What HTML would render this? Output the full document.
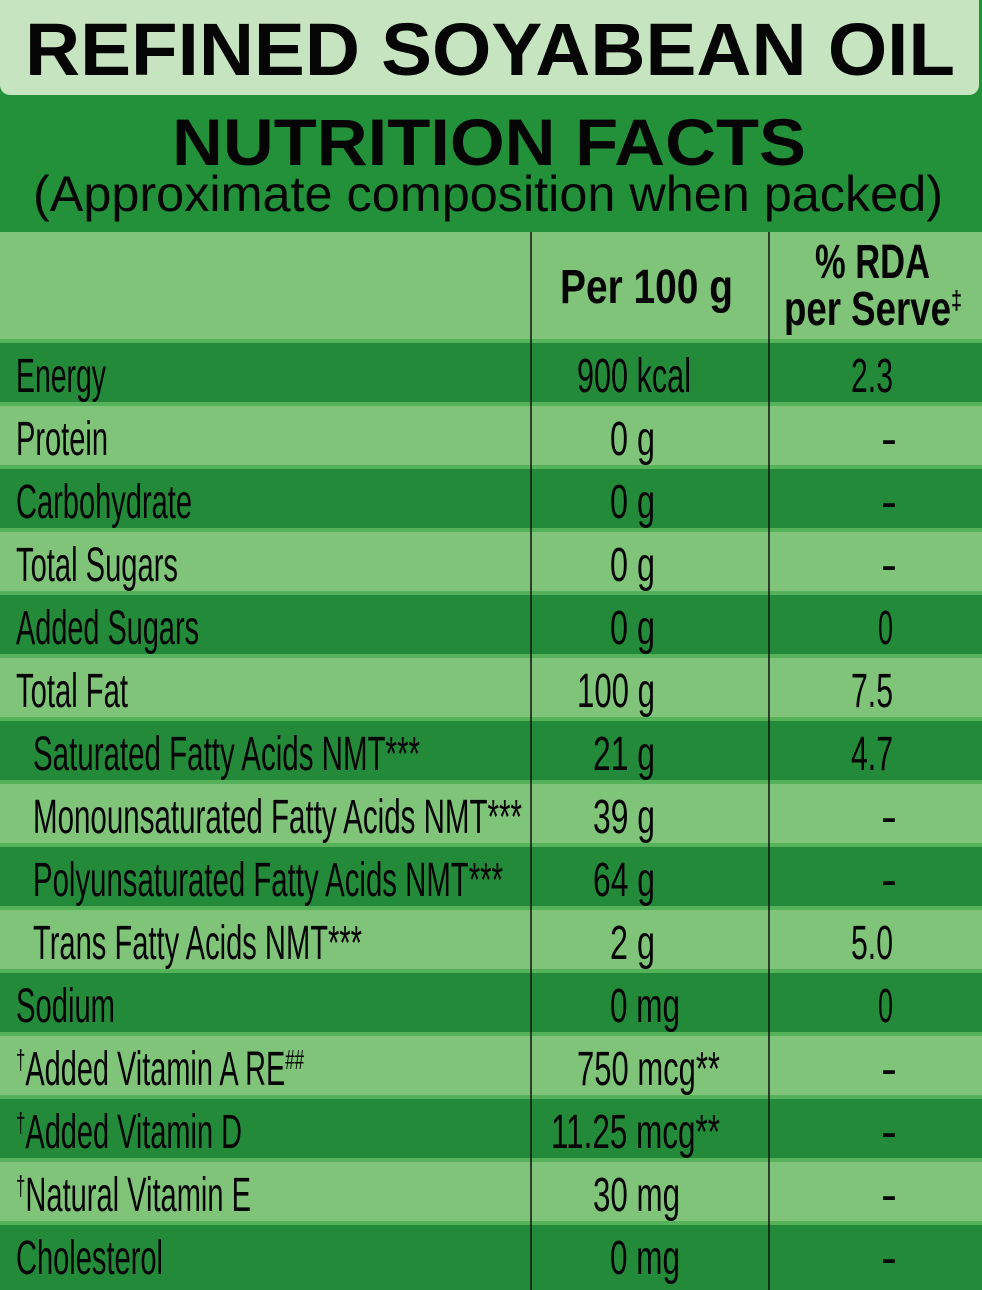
<!DOCTYPE html>
<html><head><meta charset="utf-8"><style>
html,body{margin:0;padding:0;background:#22913a;}
svg{display:block;}
text{font-family:"Liberation Sans",sans-serif;fill:#050505;}
</style></head><body>
<svg width="982" height="1290" xmlns="http://www.w3.org/2000/svg">
<rect width="982" height="1290" fill="#22913a"/>
<rect x="0" y="-10" width="979" height="105" rx="10" fill="#c6e4c0"/>
<text x="25" y="75" font-size="74" font-weight="bold" textLength="930" lengthAdjust="spacingAndGlyphs">REFINED SOYABEAN OIL</text>
<text x="172" y="165" font-size="66" font-weight="bold" textLength="634" lengthAdjust="spacingAndGlyphs">NUTRITION FACTS</text>
<text x="33" y="211" font-size="50" textLength="910" lengthAdjust="spacingAndGlyphs">(Approximate composition when packed)</text>
<rect x="0" y="232" width="982" height="107" fill="#80c47a"/>
<rect x="0" y="339" width="982" height="4" fill="#55b25a"/><rect x="0" y="343" width="982" height="59" fill="#238a3a"/>
<rect x="0" y="402" width="982" height="4" fill="#55b25a"/><rect x="0" y="406" width="982" height="59" fill="#80c47a"/>
<rect x="0" y="465" width="982" height="4" fill="#55b25a"/><rect x="0" y="469" width="982" height="59" fill="#238a3a"/>
<rect x="0" y="528" width="982" height="4" fill="#55b25a"/><rect x="0" y="532" width="982" height="59" fill="#80c47a"/>
<rect x="0" y="591" width="982" height="4" fill="#55b25a"/><rect x="0" y="595" width="982" height="59" fill="#238a3a"/>
<rect x="0" y="654" width="982" height="4" fill="#55b25a"/><rect x="0" y="658" width="982" height="59" fill="#80c47a"/>
<rect x="0" y="717" width="982" height="4" fill="#55b25a"/><rect x="0" y="721" width="982" height="59" fill="#238a3a"/>
<rect x="0" y="780" width="982" height="4" fill="#55b25a"/><rect x="0" y="784" width="982" height="59" fill="#80c47a"/>
<rect x="0" y="843" width="982" height="4" fill="#55b25a"/><rect x="0" y="847" width="982" height="59" fill="#238a3a"/>
<rect x="0" y="906" width="982" height="4" fill="#55b25a"/><rect x="0" y="910" width="982" height="59" fill="#80c47a"/>
<rect x="0" y="969" width="982" height="4" fill="#55b25a"/><rect x="0" y="973" width="982" height="59" fill="#238a3a"/>
<rect x="0" y="1032" width="982" height="4" fill="#55b25a"/><rect x="0" y="1036" width="982" height="59" fill="#80c47a"/>
<rect x="0" y="1095" width="982" height="4" fill="#55b25a"/><rect x="0" y="1099" width="982" height="59" fill="#238a3a"/>
<rect x="0" y="1158" width="982" height="4" fill="#55b25a"/><rect x="0" y="1162" width="982" height="59" fill="#80c47a"/>
<rect x="0" y="1221" width="982" height="4" fill="#55b25a"/><rect x="0" y="1225" width="982" height="65" fill="#238a3a"/>
<line x1="531" y1="232" x2="531" y2="1290" stroke="#111" stroke-width="1.5"/>
<line x1="769" y1="232" x2="769" y2="1290" stroke="#111" stroke-width="1.5"/>
<g font-size="48" font-weight="bold">
<text x="560" y="303" textLength="173" lengthAdjust="spacingAndGlyphs">Per 100 g</text>
<text x="815" y="278" textLength="115" lengthAdjust="spacingAndGlyphs">% RDA</text>
<text x="784" y="325" textLength="178" lengthAdjust="spacingAndGlyphs">per Serve<tspan font-size="26" dy="-16">‡</tspan></text>
</g>
<g font-size="48" transform="translate(0,-3)">
<text x="16" y="395" textLength="90" lengthAdjust="spacingAndGlyphs">Energy</text>
<text x="16" y="458" textLength="92" lengthAdjust="spacingAndGlyphs">Protein</text>
<text x="16" y="521" textLength="176" lengthAdjust="spacingAndGlyphs">Carbohydrate</text>
<text x="16" y="584" textLength="162" lengthAdjust="spacingAndGlyphs">Total Sugars</text>
<text x="16" y="647" textLength="183" lengthAdjust="spacingAndGlyphs">Added Sugars</text>
<text x="16" y="710" textLength="112" lengthAdjust="spacingAndGlyphs">Total Fat</text>
<text x="33" y="773" textLength="387" lengthAdjust="spacingAndGlyphs">Saturated Fatty Acids NMT***</text>
<text x="33" y="836" textLength="489" lengthAdjust="spacingAndGlyphs">Monounsaturated Fatty Acids NMT***</text>
<text x="33" y="899" textLength="470" lengthAdjust="spacingAndGlyphs">Polyunsaturated Fatty Acids NMT***</text>
<text x="33" y="962" textLength="329" lengthAdjust="spacingAndGlyphs">Trans Fatty Acids NMT***</text>
<text x="16" y="1025" textLength="99" lengthAdjust="spacingAndGlyphs">Sodium</text>
<text x="16" y="1088" textLength="288" lengthAdjust="spacingAndGlyphs"><tspan font-size="28" dy="-16">†</tspan><tspan dy="16">Added Vitamin A RE</tspan><tspan font-size="28" dy="-16">##</tspan></text>
<text x="16" y="1151" textLength="226" lengthAdjust="spacingAndGlyphs"><tspan font-size="28" dy="-16">†</tspan><tspan dy="16">Added Vitamin D</tspan></text>
<text x="16" y="1214" textLength="235" lengthAdjust="spacingAndGlyphs"><tspan font-size="28" dy="-16">†</tspan><tspan dy="16">Natural Vitamin E</tspan></text>
<text x="16" y="1277" textLength="147" lengthAdjust="spacingAndGlyphs">Cholesterol</text>

<text x="577" y="395" textLength="114" lengthAdjust="spacingAndGlyphs">900 kcal</text>
<text x="610" y="458" textLength="45" lengthAdjust="spacingAndGlyphs">0 g</text>
<text x="610" y="521" textLength="45" lengthAdjust="spacingAndGlyphs">0 g</text>
<text x="610" y="584" textLength="45" lengthAdjust="spacingAndGlyphs">0 g</text>
<text x="610" y="647" textLength="45" lengthAdjust="spacingAndGlyphs">0 g</text>
<text x="577" y="710" textLength="78" lengthAdjust="spacingAndGlyphs">100 g</text>
<text x="593" y="773" textLength="62" lengthAdjust="spacingAndGlyphs">21 g</text>
<text x="593" y="836" textLength="62" lengthAdjust="spacingAndGlyphs">39 g</text>
<text x="593" y="899" textLength="62" lengthAdjust="spacingAndGlyphs">64 g</text>
<text x="610" y="962" textLength="45" lengthAdjust="spacingAndGlyphs">2 g</text>
<text x="610" y="1025" textLength="70" lengthAdjust="spacingAndGlyphs">0 mg</text>
<text x="577" y="1088" textLength="143" lengthAdjust="spacingAndGlyphs">750 mcg**</text>
<text x="551" y="1151" textLength="169" lengthAdjust="spacingAndGlyphs">11.25 mcg**</text>
<text x="593" y="1214" textLength="87" lengthAdjust="spacingAndGlyphs">30 mg</text>
<text x="610" y="1277" textLength="70" lengthAdjust="spacingAndGlyphs">0 mg</text>

<text x="851" y="395" textLength="42" lengthAdjust="spacingAndGlyphs">2.3</text>
<text x="881" y="458">-</text>
<text x="881" y="521">-</text>
<text x="881" y="584">-</text>
<text x="878" y="647" textLength="15" lengthAdjust="spacingAndGlyphs">0</text>
<text x="851" y="710" textLength="42" lengthAdjust="spacingAndGlyphs">7.5</text>
<text x="851" y="773" textLength="42" lengthAdjust="spacingAndGlyphs">4.7</text>
<text x="881" y="836">-</text>
<text x="881" y="899">-</text>
<text x="851" y="962" textLength="42" lengthAdjust="spacingAndGlyphs">5.0</text>
<text x="878" y="1025" textLength="15" lengthAdjust="spacingAndGlyphs">0</text>
<text x="881" y="1088">-</text>
<text x="881" y="1151">-</text>
<text x="881" y="1214">-</text>
<text x="881" y="1277">-</text>
</g>
</svg>
</body></html>
